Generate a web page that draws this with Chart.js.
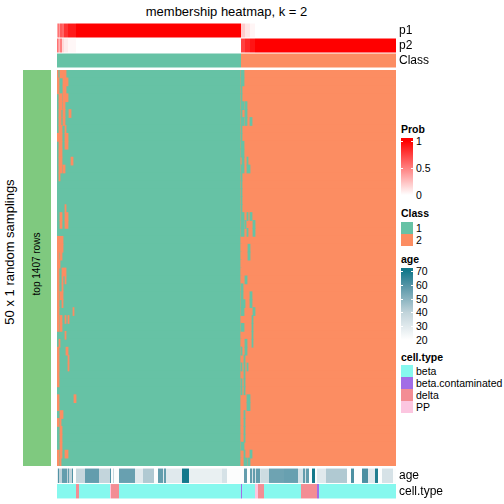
<!DOCTYPE html>
<html>
<head>
<meta charset="utf-8">
<script src="https://cdn.jsdelivr.net/npm/chart.js@4.4.1/dist/chart.umd.min.js"></script>
<style>
  body { margin: 0; background: #fff; font-family: "Liberation Sans", Arial, sans-serif; color: #000; }
  #page { position: relative; width: 504px; height: 504px; overflow: hidden; background: #fff; }
  #page canvas { position: absolute; }
  .txt { position: absolute; white-space: nowrap; font-size: 10.5px; line-height: 12px; height: 12px; }
  .ttl { position: absolute; white-space: nowrap; font-size: 10.5px; font-weight: bold; line-height: 12px; height: 12px; }
  .box { position: absolute; width: 12px; height: 12px; }
  .tick { position: absolute; width: 2px; height: 1px; background: #fff; }
</style>
</head>
<body>
<div id="page">
  <div id="mainTitle" style="position:absolute;left:57px;width:339px;top:4px;text-align:center;font-size:13px;line-height:15px;">membership heatmap, k = 2</div>
  <div style="position:absolute;left:-90px;top:244px;width:200px;height:16px;line-height:16px;text-align:center;font-size:13px;transform:rotate(-90deg);">50 x 1 random samplings</div>
  <div style="position:absolute;left:23px;top:70px;width:28px;height:396px;background:#7FC97F;"></div>
  <div style="position:absolute;left:-63px;top:258px;width:200px;height:12px;line-height:12px;text-align:center;font-size:10px;transform:rotate(-90deg);">top 1407 rows</div>

  <canvas id="topChart" width="389" height="45" style="left:57px;top:23px;"></canvas>
  <canvas id="mainChart" width="339" height="396" style="left:57px;top:70px;"></canvas>
  <canvas id="bottomChart" width="389" height="31" style="left:57px;top:468px;"></canvas>

  <div id="legends"></div>
</div>

<script>
// ====== DATA ======
const nSamples = 339;          // columns (samples, ordered)
const classSplit = 184;        // first column of class 2
const annotTop = ["p1", "p2", "Class"];
const annotBottom = ["age", "cell.type"];
const samplingRows = [];
for (let i = 1; i <= 50; i++) samplingRows.push(String(i));

// [from, to, probability]
const p1Runs = [
  [0, 1, 0.35], [1, 2, 0.55], [2, 3, 0.4], [3, 5, 0.65], [5, 7, 0.6], [7, 11, 0.8], [11, 19, 0.9], [19, 184, 1],
  [184, 188, 0.2], [188, 193, 0.1], [193, 198, 0.04], [198, 339, 0],
];
const p2Runs = [
  [0, 1, 0.55], [1, 2, 0.4], [2, 3, 0.3], [3, 5, 0.5], [5, 7, 0.15], [7, 11, 0.08], [11, 19, 0.03], [19, 184, 0],
  [184, 188, 0.75], [188, 193, 0.85], [193, 198, 0.92], [198, 339, 1],
];
// [from, to, class]
const classRuns = [[0, 184, 1], [184, 339, 2]];

// rows of the 50 samplings where a class-1 sample was assigned class 2: [row, from, to]
const switchedTo2 = [
  [0, 0, 1], [0, 3, 9], [1, 0, 2], [1, 6, 11], [2, 0, 2], [2, 6, 9], [3, 2, 5], [3, 6, 11],
  [4, 2, 5], [4, 6, 8], [5, 2, 4], [5, 6, 8], [5, 12, 14], [6, 2, 4], [6, 6, 8], [7, 2, 5], [7, 8, 9],
  [8, 0, 5], [8, 8, 11], [9, 2, 5], [9, 8, 11], [10, 2, 5], [11, 2, 5], [11, 14, 16], [12, 2, 5], [12, 6, 8],
  [13, 2, 3], [17, 8, 9], [18, 3, 5], [18, 8, 11], [19, 3, 5], [19, 8, 11], [21, 0, 6], [22, 0, 6],
  [23, 0, 2], [23, 3, 5], [24, 0, 3], [25, 0, 2], [25, 5, 9], [26, 0, 2], [26, 5, 6], [26, 8, 9],
  [27, 0, 2], [27, 5, 6], [28, 0, 2], [28, 3, 6], [29, 0, 2], [29, 5, 6], [30, 0, 2], [30, 16, 17],
  [31, 0, 2], [31, 3, 5], [31, 8, 9], [31, 11, 12], [32, 0, 2], [32, 3, 5], [33, 8, 9], [34, 2, 3],
  [35, 0, 2], [35, 9, 11], [36, 0, 2], [36, 11, 12], [37, 0, 2], [37, 11, 12], [38, 0, 2], [39, 0, 2],
  [41, 0, 2], [41, 17, 19], [42, 0, 2], [43, 3, 6], [44, 0, 2], [44, 3, 4], [45, 3, 5], [46, 3, 5],
  [47, 3, 5], [48, 0, 2], [48, 3, 5], [48, 8, 11], [49, 0, 2], [49, 3, 4],
];
// class-2 samples assigned class 1: [row, from, to]
const switchedTo1 = [
  [0, 184, 187], [1, 184, 187], [2, 184, 185], [3, 184, 185], [4, 184, 187], [4, 188, 190],
  [5, 184, 185], [5, 188, 190], [6, 184, 187], [6, 188, 190], [6, 193, 195], [7, 184, 185], [8, 184, 185],
  [9, 184, 187], [10, 184, 187], [11, 185, 187], [11, 190, 191], [12, 184, 187], [12, 190, 193],
  [13, 184, 185], [14, 184, 185], [15, 184, 185], [16, 184, 185], [17, 184, 185],
  [18, 184, 187], [18, 190, 191], [18, 193, 195], [19, 184, 187], [19, 188, 189], [19, 196, 198],
  [20, 184, 187], [20, 190, 191], [20, 196, 198], [22, 191, 193], [23, 191, 193], [26, 188, 190],
  [27, 184, 186], [28, 184, 186], [28, 193, 195], [29, 184, 188], [29, 193, 195], [30, 184, 187], [30, 196, 198],
  [31, 195, 196], [32, 184, 187], [32, 195, 196], [33, 195, 196], [34, 188, 190], [34, 195, 196],
  [35, 184, 185], [35, 188, 190], [36, 187, 188], [37, 184, 185], [37, 187, 188], [37, 190, 191],
  [38, 187, 188], [39, 184, 185], [39, 187, 188], [40, 184, 185], [40, 187, 188], [41, 190, 193], [42, 190, 193],
  [43, 187, 188], [44, 187, 188], [45, 187, 188], [46, 187, 188], [47, 184, 187], [48, 187, 188], [48, 193, 195],
  [49, 187, 190], [49, 191, 193],
];

// [from, to, age]
const ageRuns = [
  [0, 1, 28], [1, 2, 60], [2, 5, 40], [5, 10, 57], [10, 11, 40], [11, 12, 57], [12, 15, 40], [15, 16, 60],
  [16, 19, 21], [19, 28, 38], [28, 42, 57], [42, 53, 39], [53, 54, 60], [54, 56, 21], [56, 57, 38], [57, 62, 21],
  [62, 78, 56], [78, 86, 30], [86, 97, 43], [97, 101, 21], [101, 106, 57], [106, 107, 30], [107, 109, 57],
  [109, 125, 30], [125, 132, 70], [132, 165, 27], [165, 170, 33], [170, 187, 21], [187, 190, 57], [190, 193, 21],
  [193, 195, 57], [195, 196, 33], [196, 198, 57], [198, 199, 33], [199, 203, 57], [203, 204, 33], [204, 212, 36],
  [212, 227, 55], [227, 241, 56], [241, 246, 33], [246, 248, 57], [248, 249, 33], [249, 252, 57], [252, 255, 21],
  [255, 258, 70], [258, 260, 21], [260, 269, 30], [269, 290, 43], [290, 294, 21], [294, 297, 61], [297, 305, 21],
  [305, 311, 61], [311, 318, 30], [318, 321, 68], [321, 325, 21], [325, 336, 33], [336, 339, 21],
];
// [from, to, cell type]
const cellTypeRuns = [
  [0, 19, "beta"], [19, 22, "delta"], [22, 53, "beta"], [53, 54, "PP"], [54, 62, "delta"], [62, 184, "beta"],
  [184, 185, "beta.contaminated"], [185, 198, "beta"], [198, 201, "PP"], [201, 207, "delta"], [207, 244, "beta"],
  [244, 260, "delta"], [260, 262, "beta.contaminated"], [262, 339, "beta"],
];

const cellTypes = ["beta", "beta.contaminated", "delta", "PP"];
const cellTypeColors = ["#86F8EE", "#A26DE6", "#F38D94", "#FCC6E0"];
const classColors = { 1: "#66C2A5", 2: "#FC8D62" };
const ageTicks = [70, 60, 50, 40, 30, 20];
const probTicks = [1, 0.5, 0];

// ====== COLOURS ======
function hex(c) {
  return [parseInt(c.slice(1, 3), 16), parseInt(c.slice(3, 5), 16), parseInt(c.slice(5, 7), 16)];
}
function mix(a, b, t) {
  const A = hex(a), B = hex(b);
  const r = A.map((v, i) => Math.round(v + (B[i] - v) * t));
  return `rgb(${r[0]},${r[1]},${r[2]})`;
}
function probColor(v) {
  return mix("#FFFFFF", "#FF0000", v);
}
const ageStops = [[20, "#FFFFFF"], [40, "#C0D3DA"], [60, "#5293A5"], [70, "#13798B"]];
function ageColor(v) {
  for (let i = 1; i < ageStops.length; i++) {
    if (v <= ageStops[i][0]) {
      const [a0, c0] = ageStops[i - 1], [a1, c1] = ageStops[i];
      return mix(c0, c1, Math.max(0, (v - a0) / (a1 - a0)));
    }
  }
  return ageStops[ageStops.length - 1][1];
}

// ====== CHARTS ======
Chart.defaults.font.family = "'Liberation Sans', Arial, sans-serif";
Chart.defaults.color = "#000";

// one dataset of floating bars, each with its own colour
// (higher "order" is painted first, so base layers get a high order)
function segDataset(segs, barPct, order, inflate) {
  return {
    data: segs,
    order: order || 0,
    backgroundColor: segs.map((s) => s.c),
    borderWidth: 0,
    borderSkipped: false,
    inflateAmount: inflate === undefined ? "auto" : inflate,
    grouped: false,
    barPercentage: barPct,
    categoryPercentage: 1,
  };
}

function baseOptions(labels, showLabels) {
  const y = {
    type: "category",
    labels: labels,
    position: "right",
    display: showLabels,
    grid: { display: false, drawTicks: false },
    border: { display: false },
    ticks: { padding: 3, autoSkip: false, font: { size: 12 }, color: "#000" },
  };
  if (showLabels) {
    y.afterFit = (scale) => {
      scale.width = 50;
      scale.paddingTop = 0;
      scale.paddingBottom = 0;
    };
  }
  return {
    responsive: false,
    animation: false,
    indexAxis: "y",
    layout: { padding: 0 },
    plugins: { legend: { display: false }, tooltip: { enabled: false } },
    scales: {
      x: { type: "linear", min: 0, max: nSamples, display: false },
      y: y,
    },
  };
}

// top annotations: p1, p2, Class
const topSegs = [];
p1Runs.forEach((r) => topSegs.push({ x: [r[0], r[1]], y: "p1", c: probColor(r[2]) }));
p2Runs.forEach((r) => topSegs.push({ x: [r[0], r[1]], y: "p2", c: probColor(r[2]) }));
classRuns.forEach((r) => topSegs.push({ x: [r[0], r[1]], y: "Class", c: classColors[r[2]] }));

new Chart(document.getElementById("topChart"), {
  type: "bar",
  data: { datasets: [segDataset(topSegs, 0.93)] },
  options: baseOptions(annotTop, true),
});

// main membership matrix
const baseSegs = [];
samplingRows.forEach((row) => {
  classRuns.forEach((r) => baseSegs.push({ x: [r[0], r[1]], y: row, c: classColors[r[2]] }));
});
const to2Segs = switchedTo2.map((s) => ({ x: [s[1], s[2]], y: samplingRows[s[0]], c: classColors[2] }));
const to1Segs = switchedTo1.map((s) => ({ x: [s[1], s[2]], y: samplingRows[s[0]], c: classColors[1] }));

new Chart(document.getElementById("mainChart"), {
  type: "bar",
  data: {
    datasets: [
      segDataset(baseSegs, 1, 2, 0.6),
      segDataset(to2Segs, 1, 1, 0.4),
      segDataset(to1Segs, 1, 1, 0.4),
    ],
  },
  options: baseOptions(samplingRows, false),
});

// bottom annotations: age, cell.type
const bottomSegs = [];
ageRuns.forEach((r) => bottomSegs.push({ x: [r[0], r[1]], y: "age", c: ageColor(r[2]) }));
cellTypeRuns.forEach((r) =>
  bottomSegs.push({ x: [r[0], r[1]], y: "cell.type", c: cellTypeColors[cellTypes.indexOf(r[2])] })
);
new Chart(document.getElementById("bottomChart"), {
  type: "bar",
  data: { datasets: [segDataset(bottomSegs, 0.93)] },
  options: baseOptions(annotBottom, true),
});

// ====== LEGENDS (html) ======
const legends = document.getElementById("legends");
function add(cls, left, centerY, text, extra) {
  const d = document.createElement("div");
  d.className = cls;
  d.style.left = left + "px";
  d.style.top = centerY - 6 + "px";
  if (text !== undefined) d.textContent = text;
  if (extra) Object.assign(d.style, extra);
  legends.appendChild(d);
  return d;
}

// Prob
add("ttl", 401, 129, "Prob");
add("box", 401, 144, undefined, {
  height: "58px", top: "138px",
  background: "linear-gradient(to bottom, #FF0000 0px, #FF0000 3px, #FFFFFF 57px)",
});
probTicks.forEach((t) => {
  const y = 141 + (1 - t) * 54;
  add("txt", 416, y, String(t));
  if (t > 0) {
    add("tick", 401, y + 6);
    add("tick", 411, y + 6);
  }
});

// Class
add("ttl", 401, 213, "Class");
[1, 2].forEach((k, i) => {
  add("box", 401, 228 + i * 12, undefined, { background: classColors[k] });
  add("txt", 416, 228 + i * 12, String(k));
});

// age
add("ttl", 401, 259, "age");
add("box", 401, 274, undefined, {
  height: "76px", top: "268px",
  background: "linear-gradient(to bottom, #13798B 0px, #13798B 3px, #5293A5 16.8px, #C0D3DA 44.4px, #FFFFFF 72px)",
});
ageTicks.forEach((a) => {
  const y = 271 + (70 - a) * 1.38;
  add("txt", 416, y, String(a));
  if (a > 20) {
    add("tick", 401, y + 6);
    add("tick", 411, y + 6);
  }
});

// cell.type
add("ttl", 401, 357, "cell.type");
cellTypes.forEach((t, i) => {
  add("box", 401, 371 + i * 12, undefined, { background: cellTypeColors[i] });
  add("txt", 416, 371 + i * 12, t);
});
</script>
</body>
</html>
